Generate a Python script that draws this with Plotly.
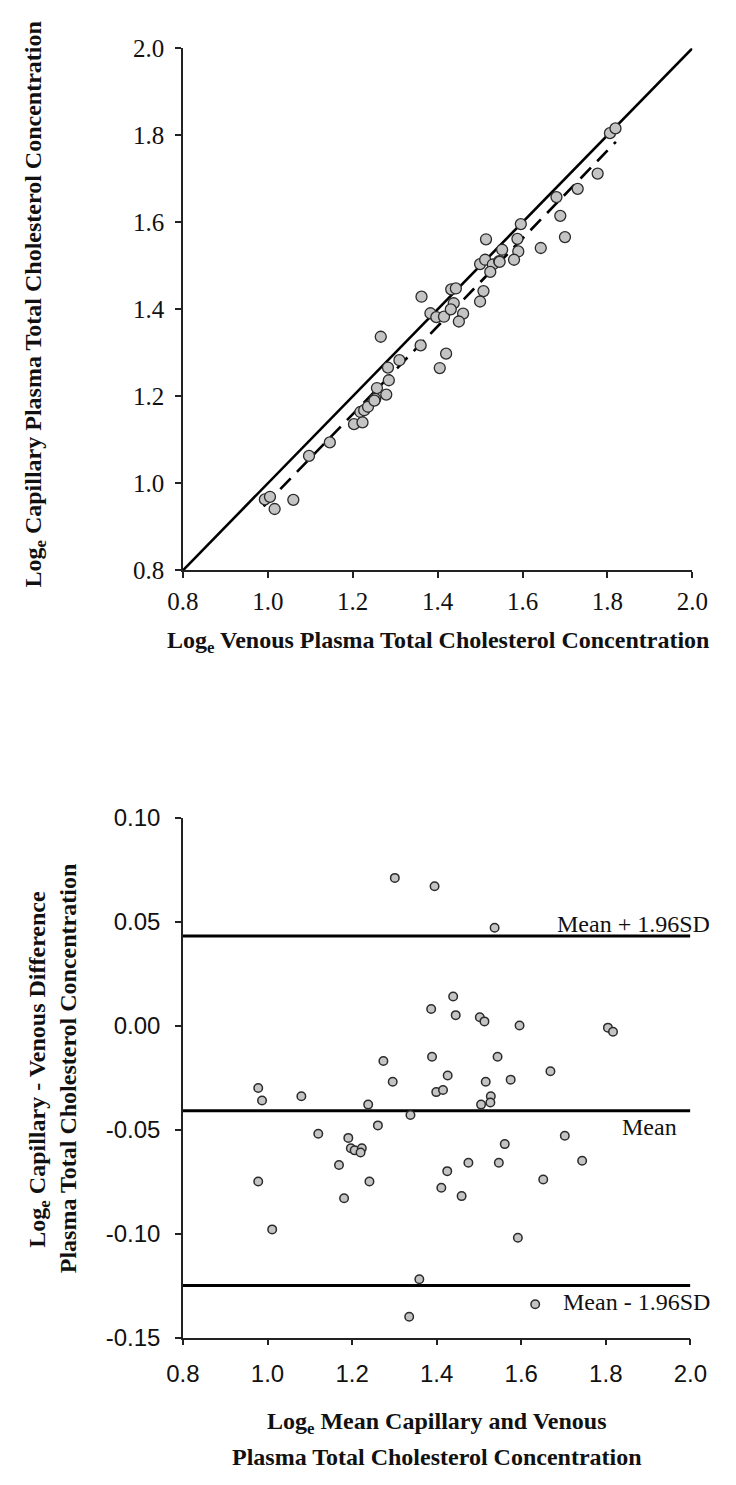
import plotly.graph_objects as go

# ---------------- data ----------------
# Top panel: log venous (x) vs log capillary (y)
venous = [1.266, 1.362, 1.514, 1.432, 1.383, 1.443, 1.500, 1.512, 1.596, 1.806,
          1.819, 1.397, 1.552, 1.283, 1.680, 1.438, 1.588, 1.530, 1.310, 1.415,
          1.431, 1.545, 1.524, 1.546, 0.993, 1.005, 1.097, 1.257, 1.360, 1.285,
          1.146, 1.730, 1.218, 1.590, 1.227, 1.236, 1.253, 1.251, 1.508, 1.580,
          1.777, 1.203, 1.460, 1.689, 1.016, 1.279, 1.450, 1.223, 1.500, 1.060,
          1.643, 1.420, 1.700, 1.405]
capillary = [1.337, 1.429, 1.561, 1.446, 1.391, 1.448, 1.504, 1.514, 1.596, 1.805,
             1.816, 1.382, 1.537, 1.266, 1.658, 1.414, 1.562, 1.503, 1.283, 1.383,
             1.400, 1.511, 1.486, 1.509, 0.963, 0.969, 1.063, 1.219, 1.317, 1.237,
             1.094, 1.677, 1.164, 1.533, 1.168, 1.176, 1.194, 1.190, 1.442, 1.514,
             1.712, 1.136, 1.390, 1.615, 0.941, 1.204, 1.372, 1.140, 1.418, 0.962,
             1.541, 1.298, 1.566, 1.265]
identity_x = [0.8, 2.0]
identity_y = [0.8, 2.0]
reg_x = [0.99, 1.82]
reg_y = [0.947, 1.785]

# Bottom panel: mean (x) vs difference (y)
mean_cv = [1.301, 1.395, 1.537, 1.439, 1.387, 1.445, 1.502, 1.513, 1.596, 1.805,
           1.817, 1.389, 1.544, 1.274, 1.669, 1.426, 1.575, 1.516, 1.296, 1.399,
           1.415, 1.528, 1.505, 1.527, 0.978, 0.987, 1.080, 1.238, 1.338, 1.261,
           1.120, 1.703, 1.191, 1.561, 1.197, 1.206, 1.223, 1.220, 1.475, 1.547,
           1.744, 1.169, 1.425, 1.652, 0.978, 1.241, 1.411, 1.181, 1.459, 1.011,
           1.592, 1.359, 1.633, 1.335]
diff_cv = [0.071, 0.067, 0.047, 0.014, 0.008, 0.005, 0.004, 0.002, 0.000, -0.001,
           -0.003, -0.015, -0.015, -0.017, -0.022, -0.024, -0.026, -0.027, -0.027, -0.032,
           -0.031, -0.034, -0.038, -0.037, -0.030, -0.036, -0.034, -0.038, -0.043, -0.048,
           -0.052, -0.053, -0.054, -0.057, -0.059, -0.060, -0.059, -0.061, -0.066, -0.066,
           -0.065, -0.067, -0.070, -0.074, -0.075, -0.075, -0.078, -0.083, -0.082, -0.098,
           -0.102, -0.122, -0.134, -0.140]
limit_x = [0.8, 2.0]
limit_values = [0.043, -0.041, -0.125]
limit_labels = ["Mean + 1.96SD", "Mean", "Mean - 1.96SD"]

top_ticks = [0.8, 1.0, 1.2, 1.4, 1.6, 1.8, 2.0]
top_ticktext = ["0.8", "1.0", "1.2", "1.4", "1.6", "1.8", "2.0"]
bottom_yticks = [-0.15, -0.10, -0.05, 0.00, 0.05, 0.10]
bottom_yticktext = ["-0.15", "-0.10", "-0.05", "0.00", "0.05", "0.10"]

# ---------------- figure ----------------
W, H = 736, 1485
SERIF = "Liberation Serif, Times New Roman, serif"
SANS = "Liberation Sans, Arial, sans-serif"

fig = go.Figure()

fig.add_trace(go.Scatter(x=identity_x, y=identity_y, mode="lines",
                         line=dict(color="black", width=2.6),
                         xaxis="x", yaxis="y", hoverinfo="skip"))
fig.add_trace(go.Scatter(x=reg_x, y=reg_y, mode="lines",
                         line=dict(color="black", width=2.6, dash="15px,9px"),
                         xaxis="x", yaxis="y", hoverinfo="skip"))
fig.add_trace(go.Scatter(x=venous, y=capillary, mode="markers",
                         marker=dict(size=11, color="#c4c4c4",
                                     line=dict(color="#2b2b2b", width=1.3)),
                         xaxis="x", yaxis="y"))

for v in limit_values:
    fig.add_trace(go.Scatter(x=limit_x, y=[v, v], mode="lines",
                             line=dict(color="black", width=3),
                             xaxis="x2", yaxis="y2", hoverinfo="skip"))
fig.add_trace(go.Scatter(x=mean_cv, y=diff_cv, mode="markers",
                         marker=dict(size=8.5, color="#c4c4c4",
                                     line=dict(color="#2b2b2b", width=1.5)),
                         xaxis="x2", yaxis="y2"))

axis_common = dict(showgrid=False, zeroline=False, showline=True,
                   linecolor="#222", linewidth=1.5, ticks="outside",
                   ticklen=6, tickwidth=1.5, tickcolor="#222", mirror=False)

fig.update_layout(
    width=W, height=H, margin=dict(l=0, r=0, t=0, b=0),
    paper_bgcolor="white", plot_bgcolor="white", showlegend=False,
    xaxis=dict(domain=[174 / W, 708 / W], anchor="y", range=[0.8, 2.0],
               tickvals=top_ticks, ticktext=top_ticktext, ticklabelstandoff=2,
               tickfont=dict(family=SERIF, size=25, color="#111"), **axis_common),
    yaxis=dict(domain=[1 - 567 / H, 1 - 35 / H], anchor="x", range=[0.8, 2.0],
               tickvals=top_ticks, ticktext=top_ticktext, ticklabelstandoff=6,
               tickfont=dict(family=SERIF, size=25, color="#111"), **axis_common),
    xaxis2=dict(domain=[174 / W, 706 / W], anchor="y2", range=[0.8, 2.0],
                tickvals=top_ticks, ticktext=top_ticktext, ticklabelstandoff=8,
                tickfont=dict(family=SANS, size=24, color="#111"), **axis_common),
    yaxis2=dict(domain=[1 - 1349 / H, 1 - 819 / H], anchor="x2", range=[-0.15, 0.10],
                tickvals=bottom_yticks, ticktext=bottom_yticktext, ticklabelstandoff=10,
                tickfont=dict(family=SANS, size=24, color="#111"), **axis_common),
)

title_font = dict(family=SERIF, size=24, color="#111")
ann = []
# top axis titles
ann.append(dict(text="<b>Log<sub>e</sub> Venous Plasma Total Cholesterol Concentration</b>",
                xref="paper", yref="paper", x=441 / W, y=1 - 640 / H,
                xanchor="center", yanchor="middle", showarrow=False, font=title_font))
ann.append(dict(text="<b>Log<sub>e</sub> Capillary Plasma Total Cholesterol Concentration</b>",
                xref="paper", yref="paper", x=19 / W, y=1 - 296 / H, textangle=-90,
                xanchor="center", yanchor="middle", showarrow=False, font=title_font))
# bottom axis titles
ann.append(dict(text="<b>Log<sub>e</sub> Mean Capillary and Venous</b>",
                xref="paper", yref="paper", x=440 / W, y=1 - 1436 / H,
                xanchor="center", yanchor="middle", showarrow=False, font=title_font))
ann.append(dict(text="<b>Plasma Total Cholesterol Concentration</b>",
                xref="paper", yref="paper", x=440 / W, y=1 - 1471 / H,
                xanchor="center", yanchor="middle", showarrow=False, font=title_font))
ann.append(dict(text="<b>Log<sub>e</sub> Capillary - Venous Difference</b>",
                xref="paper", yref="paper", x=23 / W, y=1 - 1075 / H, textangle=-90,
                xanchor="center", yanchor="middle", showarrow=False, font=title_font))
ann.append(dict(text="<b>Plasma Total Cholesterol Concentration</b>",
                xref="paper", yref="paper", x=53 / W, y=1 - 1075 / H, textangle=-90,
                xanchor="center", yanchor="middle", showarrow=False, font=title_font))

# limit labels
lab_font = dict(family=SERIF, size=24, color="#111")
ann.append(dict(text=limit_labels[0], xref="paper", yref="y2", x=729 / W, y=limit_values[0],
                xanchor="right", yanchor="bottom", showarrow=False, font=lab_font, yshift=-3))
ann.append(dict(text=limit_labels[1], xref="paper", yref="y2", x=632 / W, y=limit_values[1],
                xanchor="left", yanchor="top", showarrow=False, font=lab_font, yshift=-1))
ann.append(dict(text=limit_labels[2], xref="paper", yref="y2", x=729 / W, y=limit_values[2],
                xanchor="right", yanchor="top", showarrow=False, font=lab_font, yshift=-1))

fig.update_layout(annotations=ann)
fig.write_html("out.html")
